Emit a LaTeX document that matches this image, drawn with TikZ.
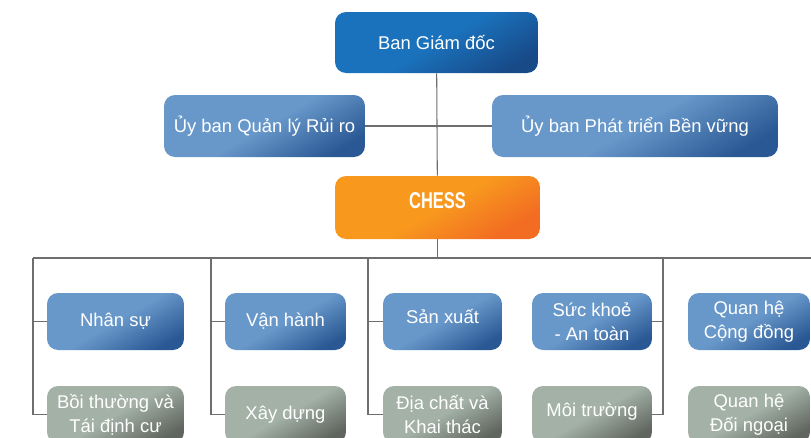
\documentclass[tikz,border=0pt]{standalone}
\usepackage{fontspec}
\setmainfont{Liberation Sans}
\newfontfamily\narrowbold[FakeStretch=0.72]{Liberation Sans Bold}
\usepackage{tikz}
\usetikzlibrary{positioning,calc}
\definecolor{topblue}{HTML}{1A72BC}
\definecolor{topdark}{HTML}{184A88}
\definecolor{midblue}{HTML}{6898CA}
\definecolor{middark}{HTML}{2A5894}
\definecolor{chessorg}{HTML}{F8991E}
\definecolor{chessdark}{HTML}{F26C22}
\definecolor{unitgrey}{HTML}{A3B1A7}
\definecolor{unitdark}{HTML}{60665F}
\definecolor{linegrey}{HTML}{6E6E6E}
% dark only towards the lower right corner
\pgfdeclareverticalshading{topshade}{100bp}{color(0bp)=(topdark); color(24bp)=(topdark); color(50bp)=(topblue); color(100bp)=(topblue)}
\pgfdeclareverticalshading{blueshade}{100bp}{color(0bp)=(middark); color(24bp)=(middark); color(50bp)=(midblue); color(100bp)=(midblue)}
\pgfdeclareverticalshading{greyshade}{100bp}{color(0bp)=(unitdark); color(24bp)=(unitdark); color(50bp)=(unitgrey); color(100bp)=(unitgrey)}
\pgfdeclareverticalshading{chessshade}{100bp}{color(0bp)=(chessdark); color(26bp)=(chessdark); color(50bp)=(chessorg); color(100bp)=(chessorg)}
\tikzset{box/.style={rounded corners=0.22cm, inner sep=2pt, align=center, text=white, font=\fontsize{10.5}{13.5}\selectfont}}
\tikzset{topbox/.style={box, shade, shading=topshade, shading angle=30}}
\tikzset{bluebox/.style={box, shade, shading=blueshade, shading angle=30}}
\tikzset{greybox/.style={box, shade, shading=greyshade, shading angle=30}}
\tikzset{chessbox/.style={box, shade, shading=chessshade, shading angle=30}}
\tikzset{unit/.style={minimum height=1.14cm}}
\tikzset{conn/.style={draw=linegrey, line width=0.6pt}}
\begin{document}
\begin{tikzpicture}[x=0.02cm, y=-0.02cm]
	\useasboundingbox (0,0) rectangle (811,437);
	\clip (0,0) rectangle (811,437);
	% management
	\node[topbox, minimum width=4.06cm, minimum height=1.22cm] (bgd) at (436.5,42.5) {Ban Giám đốc};
	\node[bluebox, minimum width=4.02cm, minimum height=1.24cm] (qlrr) at (264.5,126) {Ủy ban Quản lý Rủi ro};
	\node[bluebox, minimum width=5.72cm, minimum height=1.24cm] (ptbv) at (635,126) {Ủy ban Phát triển Bền vững};
	\node[chessbox, minimum width=4.1cm, minimum height=1.26cm] (chess) at (437.5,207.5) {};
	\node[text=white, font=\narrowbold\fontsize{13}{15}\selectfont] (chesslbl) at (437.5,201) {CHESS};
	% units
	\node[bluebox, unit, minimum width=2.74cm] (ns) at (115.5,321.5) {Nhân sự};
	\node[greybox, unit, minimum width=2.74cm] (bt) at (115.5,414.5) {Bồi thường và\\Tái định cư};
	\node[bluebox, unit, minimum width=2.42cm] (vh) at (285.5,321.5) {Vận hành};
	\node[greybox, unit, minimum width=2.42cm] (xd) at (285.5,414.5) {Xây dựng};
	\node[bluebox, unit, minimum width=2.38cm] (sx) at (442.5,321.5) {\raisebox{5.6pt}{Sản xuất}};
	\node[greybox, unit, minimum width=2.38cm] (dc) at (442.5,414.5) {Địa chất và\\Khai thác};
	\node[bluebox, unit, minimum width=2.4cm] (sk) at (592,321.5) {Sức khoẻ\\- An toàn};
	\node[greybox, unit, minimum width=2.4cm] (mt) at (592,414.5) {\raisebox{5pt}{Môi trường}};
	\node[bluebox, unit, minimum width=2.44cm] (qhcd) at (749,321.5) {Quan hệ\\Cộng đồng};
	\node[greybox, unit, minimum width=2.44cm] (qhdn) at (749,414.5) {Quan hệ\\Đối ngoại};
	% bus
	\coordinate (busl) at (33,258);
	\coordinate (busr) at (811,258);
	\coordinate (busc) at (chess.south |- busl);
	\coordinate (sp1) at (33,258);
	\coordinate (sp2) at (211,258);
	\coordinate (sp3) at (368,258);
	\coordinate (sp4) at (663,258);
	\draw[conn] (bgd) -- (chess);
	\draw[conn] (qlrr) -- (ptbv);
	\draw[conn] (chess) -- (busc);
	\draw[conn] (busl) -- (busr);
	\draw[conn] (sp1) |- (bt.west);
	\draw[conn] (sp1) |- (ns.west);
	\draw[conn] (sp2) |- (xd.west);
	\draw[conn] (sp2) |- (vh.west);
	\draw[conn] (sp3) |- (dc.west);
	\draw[conn] (sp3) |- (sx.west);
	\draw[conn] (sp4) |- (mt.east);
	\draw[conn] (sp4) |- (sk.east);
\end{tikzpicture}
\end{document}
